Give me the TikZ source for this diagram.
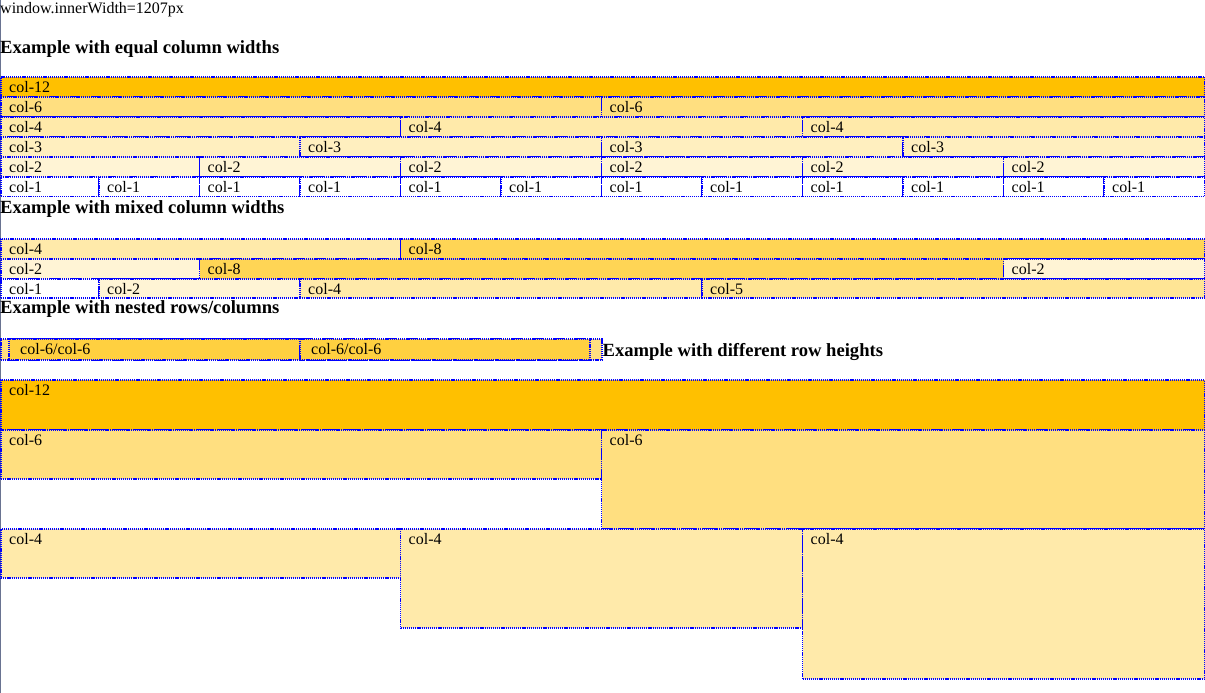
\documentclass[tikz,border=0pt]{standalone}
\usepackage{fontspec}
\setmainfont{Liberation Serif}

\definecolor{c12}{RGB}{255,192,0}
\definecolor{c8}{RGB}{255,213,85}
\definecolor{c6}{RGB}{255,223,128}
\definecolor{c5}{RGB}{255,229,149}
\definecolor{c4}{RGB}{255,234,170}
\definecolor{c3}{RGB}{255,239,191}
\definecolor{c2}{RGB}{255,244,213}
\definecolor{c1}{RGB}{255,255,255}
\definecolor{cnest}{RGB}{255,208,64}
\definecolor{pageedge}{RGB}{105,115,145}

\tikzset{
  cellbox/.style={draw=blue, line width=1.2pt, dash pattern=on 1.2pt off 0.9pt,
    inner sep=0pt, outer sep=0pt, anchor=north west},
  celltext/.style={anchor=base west, inner sep=0pt, font=\fontsize{16}{19}\selectfont},
  heading/.style={anchor=base west, inner sep=0pt, font=\fontsize{18.6}{22}\selectfont\bfseries},
}

% [text offset]{name}{x0}{y0}{x1}{y1}{fill}{text}
\newcommand{\cell}[8][8]{%
  \node[cellbox, fill=#7, minimum width={(#5-#3)*1pt}, minimum height={(#6-#4)*1pt}] (#2) at (#3,#4) {};
  \node[celltext] (#2t) at ([xshift=#1pt, yshift=-15.5pt]#2.north west) {#8};
}

\begin{document}
\begin{tikzpicture}[x=1pt, y=-1pt]
\useasboundingbox (0,0) rectangle (1205,693);
\draw[pageedge, line width=1.2pt] (0.6,0) -- (0.6,693);

\node[celltext] (win) at (0,13.3) {window.innerWidth=1207px};

% equal column widths
\node[heading] (h1) at (0,53.3) {Example with equal column widths};

\cell{a1}{1}{77}{1204.5}{97}{c12}{col-12}

\cell{b1}{1}{97}{601.5}{117}{c6}{col-6}
\cell{b2}{601.5}{97}{1204.5}{117}{c6}{col-6}

\cell{c1}{1}{117}{400.5}{137}{c4}{col-4}
\cell{c2}{400.5}{117}{802.5}{137}{c4}{col-4}
\cell{c3}{802.5}{117}{1204.5}{137}{c4}{col-4}

\cell{d1}{1}{137}{300}{157}{c3}{col-3}
\cell{d2}{300}{137}{601.5}{157}{c3}{col-3}
\cell{d3}{601.5}{137}{903}{157}{c3}{col-3}
\cell{d4}{903}{137}{1204.5}{157}{c3}{col-3}

\cell{e1}{1}{157}{199.5}{177}{c2}{col-2}
\cell{e2}{199.5}{157}{400.5}{177}{c2}{col-2}
\cell{e3}{400.5}{157}{601.5}{177}{c2}{col-2}
\cell{e4}{601.5}{157}{802.5}{177}{c2}{col-2}
\cell{e5}{802.5}{157}{1003.5}{177}{c2}{col-2}
\cell{e6}{1003.5}{157}{1204.5}{177}{c2}{col-2}

\cell{f1}{1}{177}{99}{196.5}{c1}{col-1}
\cell{f2}{99}{177}{199.5}{196.5}{c1}{col-1}
\cell{f3}{199.5}{177}{300}{196.5}{c1}{col-1}
\cell{f4}{300}{177}{400.5}{196.5}{c1}{col-1}
\cell{f5}{400.5}{177}{501}{196.5}{c1}{col-1}
\cell{f6}{501}{177}{601.5}{196.5}{c1}{col-1}
\cell{f7}{601.5}{177}{702}{196.5}{c1}{col-1}
\cell{f8}{702}{177}{802.5}{196.5}{c1}{col-1}
\cell{f9}{802.5}{177}{903}{196.5}{c1}{col-1}
\cell{f10}{903}{177}{1003.5}{196.5}{c1}{col-1}
\cell{f11}{1003.5}{177}{1104}{196.5}{c1}{col-1}
\cell{f12}{1104}{177}{1204.5}{196.5}{c1}{col-1}

% mixed column widths
\node[heading] (h2) at (0,213.5) {Example with mixed column widths};

\cell{m1}{1}{239}{400.5}{259}{c4}{col-4}
\cell{m2}{400.5}{239}{1204.5}{259}{c8}{col-8}

\cell{m3}{1}{259}{199.5}{279}{c2}{col-2}
\cell{m4}{199.5}{259}{1003.5}{279}{c8}{col-8}
\cell{m5}{1003.5}{259}{1204.5}{279}{c2}{col-2}

\cell{m6}{1}{279}{99}{298}{c1}{col-1}
\cell{m7}{99}{279}{300}{298}{c2}{col-2}
\cell{m8}{300}{279}{702}{298}{c4}{col-4}
\cell{m9}{702}{279}{1204.5}{298}{c5}{col-5}

% nested rows/columns
\node[heading] (h3) at (0,313.5) {Example with nested rows/columns};

\cell{n0}{1}{339}{602}{360}{c6}{}
\cell[11]{n1}{9}{339}{300}{360}{cnest}{col-6/col-6}
\cell[11]{n2}{300}{339}{590}{360}{cnest}{col-6/col-6}

% different row heights
\node[heading] (h4) at (602.5,356) {Example with different row heights};

\cell{r1}{1}{380}{1204.5}{430}{c12}{col-12}

\cell{r2}{1}{430}{601.5}{479}{c6}{col-6}
\cell{r3}{601.5}{430}{1204.5}{529}{c6}{col-6}

\cell{r4}{1}{529}{400.5}{578}{c4}{col-4}
\cell{r5}{400.5}{529}{802.5}{628}{c4}{col-4}
\cell{r6}{802.5}{529}{1204.5}{679}{c4}{col-4}

\end{tikzpicture}
\end{document}
